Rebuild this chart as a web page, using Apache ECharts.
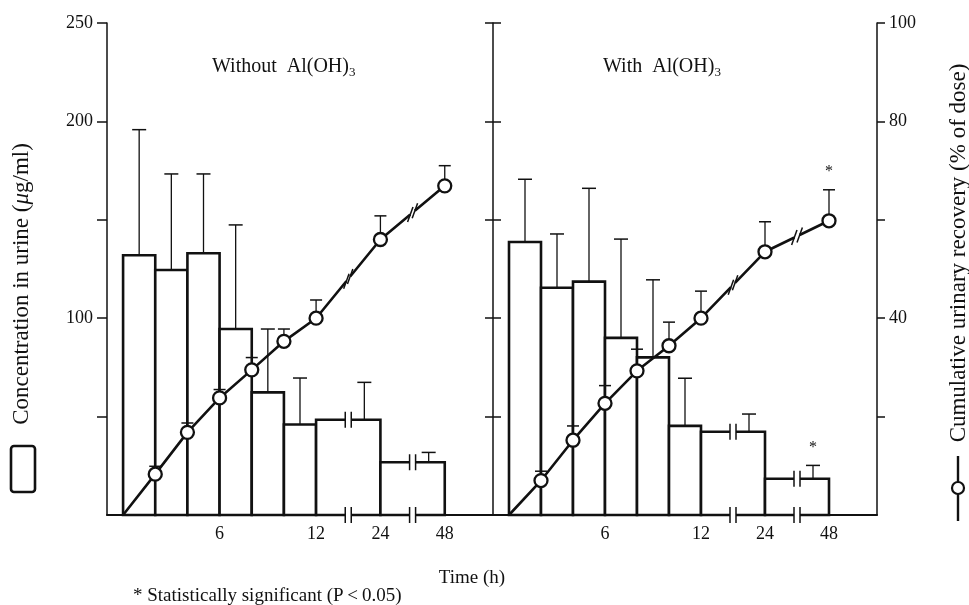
<!DOCTYPE html>
<html>
<head>
<meta charset="utf-8">
<style>
  html, body { margin: 0; padding: 0; background: #fff; }
  #chart { width: 969px; height: 605px; }
</style>
<script src="https://cdn.jsdelivr.net/npm/echarts@6/dist/echarts.min.js"></script>
</head>
<body>
<div id="chart"></div>
<script>
// one slot = 2 h, the 12-24 and 24-48 stretches are drawn broken
const slotLabels = ['0', '2', '4', '6', '8', '10', '12', '', '24', '', '48', ''];
const shownLabels = ['6', '12', '24', '48'];
const hours = [0, 2, 4, 6, 8, 10, 12, 24, 48];

// concentration in urine (ug/ml) per collection period: mean and mean + SD
const concWithout = [132, 124.5, 133, 94.5, 62.3, 46, 48.4, 26.8];
const concWithoutTop = [195.8, 173.3, 173.3, 147.4, 94.5, 69.6, 67.4, 31.8];
const concWith = [138.7, 115.5, 118.6, 90, 80.1, 45.3, 42.3, 18.4];
const concWithTop = [170.6, 142.8, 166, 140.2, 119.5, 69.5, 51.3, 25.2];
const concWithSig = [false, false, false, false, false, false, false, true];
const concWithoutSig = [false, false, false, false, false, false, false, false];

// cumulative urinary recovery (% of dose): mean and mean + SD
const recWithout = [0, 8.3, 16.8, 23.8, 29.5, 35.3, 40.0, 56.0, 66.9];
const recWithoutTop = [null, 9.9, 18.7, 25.5, 32.0, 37.8, 43.7, 60.8, 71.0];
const recWith = [0, 7.0, 15.2, 22.7, 29.3, 34.4, 40.0, 53.5, 59.8];
const recWithTop = [null, 8.9, 18.1, 26.3, 33.7, 39.2, 45.5, 59.6, 66.1];
const recWithSig = [false, false, false, false, false, false, false, false, true];
const recWithoutSig = [false, false, false, false, false, false, false, false, false];

const concTicks = [50, 100, 150, 200, 250];
const concLabels = [100, 200, 250];
const recTicks = [20, 40, 60, 80, 100];
const recLabels = [40, 80, 100];

const FONT = '"Liberation Serif", "DejaVu Serif", serif';
const ink = '#111';
const SP = '\u2002'; // wide word gap as in the original panel titles

function slot(h) {
    return slotLabels.indexOf(String(h));
}

function barItems(conc, top, sig) {
    return conc.map((v, i) => [slot(hours[i]), slot(hours[i + 1]), v, top[i], sig[i] ? 1 : 0]);
}

function lineItems(rec) {
    return rec.map((v, i) => i === 0 ? { value: [slot(hours[i]), v], symbol: 'none' } : [slot(hours[i]), v]);
}

function errItems(rec, top, sig) {
    return rec.map((v, i) => [
        slot(hours[i]), v, top[i] == null ? v : top[i], sig[i] ? 1 : 0,
        i > 0 ? slot(hours[i - 1]) : -1, i > 0 ? rec[i - 1] : 0
    ]);
}

function star(x, y) {
    return {
        type: 'text',
        style: { text: '*', x: x, y: y, font: '16px ' + FONT, fill: ink,
                 align: 'center', textAlign: 'center', verticalAlign: 'middle', textVerticalAlign: 'middle' }
    };
}

// axis break: two short strokes with a white gap between
function breakMark(x, y, out) {
    out.push({ type: 'rect', shape: { x: x - 3, y: y - 3, width: 6, height: 6 }, style: { fill: '#fff' } });
    out.push({ type: 'line', shape: { x1: x - 3, y1: y - 8, x2: x - 3, y2: y + 8 }, style: { stroke: ink, lineWidth: 1.5 } });
    out.push({ type: 'line', shape: { x1: x + 3, y1: y - 8, x2: x + 3, y2: y + 8 }, style: { stroke: ink, lineWidth: 1.5 } });
}

function renderBar(params, api) {
    const s0 = api.value(0), s1 = api.value(1), v = api.value(2), t = api.value(3);
    const pTop = api.coord([s0, v]);
    const pEnd = api.coord([s1, 0]);
    const x0 = pTop[0], x1 = pEnd[0], y0 = pEnd[1], yv = pTop[1];
    // SD bar sits over the last slot of the period
    const xe = (api.coord([s1 - 1, 0])[0] + x1) / 2;
    const ye = api.coord([s1, t])[1];
    const children = [
        { type: 'rect', shape: { x: x0, y: yv, width: x1 - x0, height: y0 - yv },
          style: { fill: '#fff', stroke: ink, lineWidth: 2.6 } },
        { type: 'line', shape: { x1: xe, y1: yv, x2: xe, y2: ye }, style: { stroke: ink, lineWidth: 1.3 } },
        { type: 'line', shape: { x1: xe - 7, y1: ye, x2: xe + 7, y2: ye }, style: { stroke: ink, lineWidth: 1.5 } }
    ];
    for (let s = s0 + 1; s < s1; s++) {
        if (slotLabels[s] !== '') continue;
        const xb = api.coord([s, 0])[0];
        breakMark(xb, yv, children);
        breakMark(xb, y0, children);
    }
    if (api.value(4)) children.push(star(xe, ye - 18));
    return { type: 'group', children: children };
}

function renderRecErr(params, api) {
    const s = api.value(0), v = api.value(1), t = api.value(2);
    const p = api.coord([s, v]), pt = api.coord([s, t]);
    const children = [];
    const yStart = p[1] - 6.5;
    if (pt[1] < yStart) {
        children.push({ type: 'line', shape: { x1: p[0], y1: yStart, x2: p[0], y2: pt[1] }, style: { stroke: ink, lineWidth: 1.3 } });
        children.push({ type: 'line', shape: { x1: p[0] - 6, y1: pt[1], x2: p[0] + 6, y2: pt[1] }, style: { stroke: ink, lineWidth: 1.5 } });
    }
    if (api.value(3)) children.push(star(p[0], pt[1] - 18));
    const sp = api.value(4);
    if (sp >= 0 && s - sp > 1) {
        const q = api.coord([sp, api.value(5)]);
        const mx = (p[0] + q[0]) / 2, my = (p[1] + q[1]) / 2;
        let dx = p[0] - q[0], dy = p[1] - q[1];
        const len = Math.hypot(dx, dy);
        dx /= len; dy /= len;
        children.push({ type: 'line', shape: { x1: mx - 3 * dx, y1: my - 3 * dy, x2: mx + 3 * dx, y2: my + 3 * dy },
                        style: { stroke: '#fff', lineWidth: 6 } });
        [-3, 3].forEach(k => {
            const cx = mx + k * dx, cy = my + k * dy;
            children.push({ type: 'line', shape: { x1: cx - 2.7, y1: cy + 7.5, x2: cx + 2.7, y2: cy - 7.5 },
                            style: { stroke: ink, lineWidth: 1.5 } });
        });
    }
    return { type: 'group', children: children };
}

const labelStyle = { fontFamily: FONT, fontSize: 18, color: ink };

function xAxisFor(gridIndex) {
    return {
        type: 'category', gridIndex: gridIndex, data: slotLabels, boundaryGap: true,
        axisLine: { lineStyle: { color: ink, width: 2 } },
        axisTick: { show: false },
        axisLabel: Object.assign({ interval: 0, margin: 10,
            formatter: v => shownLabels.indexOf(v) >= 0 ? v : '' }, labelStyle),
        splitLine: { show: false }
    };
}

function concAxis(gridIndex, opts) {
    return Object.assign({
        type: 'value', gridIndex: gridIndex, min: 0, max: 250, position: 'left',
        axisLine: { show: true, lineStyle: { color: ink, width: 1.5 } },
        axisTick: { show: true, length: 10, customValues: concTicks, lineStyle: { color: ink, width: 1.5 } },
        axisLabel: Object.assign({ show: false, margin: 14, customValues: concLabels }, labelStyle),
        splitLine: { show: false }
    }, opts);
}

const chart = echarts.init(document.getElementById('chart'));

const subRich = {
    sub: { font: '13px ' + FONT, lineHeight: 13, verticalAlign: 'bottom' }
};

function textEl(text, x, y, extra) {
    return {
        type: 'text', x: x, y: y, silent: true,
        style: Object.assign({ text: text, font: '19px ' + FONT, fill: ink }, extra || {})
    };
}

const centred = { align: 'center', textAlign: 'center', verticalAlign: 'middle', textVerticalAlign: 'middle' };

chart.setOption({
    animation: false,
    backgroundColor: '#fff',
    grid: [
        { left: 107, top: 23, width: 386, height: 492 },
        { left: 493, top: 23, width: 384, height: 492 }
    ],
    xAxis: [xAxisFor(0), xAxisFor(1)],
    yAxis: [
        concAxis(0, { axisLabel: Object.assign({ show: true, margin: 14, customValues: concLabels }, labelStyle) }),
        { type: 'value', gridIndex: 0, min: 0, max: 100, show: false },
        concAxis(1, { axisTick: { show: true, length: 8, customValues: concTicks, lineStyle: { color: ink, width: 1.5 } } }),
        concAxis(1, { axisLine: { show: false },
                      axisTick: { show: true, inside: true, length: 8, customValues: concTicks, lineStyle: { color: ink, width: 1.5 } } }),
        {
            type: 'value', gridIndex: 1, min: 0, max: 100, position: 'right',
            axisLine: { show: true, lineStyle: { color: ink, width: 1.5 } },
            axisTick: { show: true, length: 8, customValues: recTicks, lineStyle: { color: ink, width: 1.5 } },
            axisLabel: Object.assign({ margin: 12, customValues: recLabels }, labelStyle),
            splitLine: { show: false }
        }
    ],
    series: [
        { type: 'custom', name: 'conc without', xAxisIndex: 0, yAxisIndex: 0, z: 2, silent: true,
          renderItem: renderBar, data: barItems(concWithout, concWithoutTop, concWithoutSig) },
        { type: 'line', name: 'recovery without', xAxisIndex: 0, yAxisIndex: 1, z: 4, silent: true,
          data: lineItems(recWithout), symbol: 'circle', symbolSize: 13,
          lineStyle: { color: ink, width: 2.6 },
          itemStyle: { color: '#fff', borderColor: ink, borderWidth: 2.3 } },
        { type: 'custom', name: 'recovery sd without', xAxisIndex: 0, yAxisIndex: 1, z: 5, silent: true,
          renderItem: renderRecErr, data: errItems(recWithout, recWithoutTop, recWithoutSig) },

        { type: 'custom', name: 'conc with', xAxisIndex: 1, yAxisIndex: 2, z: 2, silent: true,
          renderItem: renderBar, data: barItems(concWith, concWithTop, concWithSig) },
        { type: 'line', name: 'recovery with', xAxisIndex: 1, yAxisIndex: 4, z: 4, silent: true,
          data: lineItems(recWith), symbol: 'circle', symbolSize: 13,
          lineStyle: { color: ink, width: 2.6 },
          itemStyle: { color: '#fff', borderColor: ink, borderWidth: 2.3 } },
        { type: 'custom', name: 'recovery sd with', xAxisIndex: 1, yAxisIndex: 4, z: 5, silent: true,
          renderItem: renderRecErr, data: errItems(recWith, recWithTop, recWithSig) }
    ],
    graphic: [
        textEl('Without' + SP + 'Al(OH){sub|3}', 212, 55, { font: '20px ' + FONT, rich: subRich, lineHeight: 24 }),
        textEl('With' + SP + 'Al(OH){sub|3}', 603, 55, { font: '20px ' + FONT, rich: subRich, lineHeight: 24 }),
        textEl('Time (h)', 472, 578, centred),
        textEl('* Statistically significant (P\u2009<\u20090.05)', 133, 596, { verticalAlign: 'middle', textVerticalAlign: 'middle' }),
        Object.assign(textEl('Concentration in urine ({it|\u03bc}g/ml)', 22, 284,
            Object.assign({ font: '23px ' + FONT, rich: { it: { font: 'italic 23px ' + FONT } } }, centred)),
            { rotation: Math.PI / 2 }),
        Object.assign(textEl('Cumulative urinary recovery (% of dose)', 959, 253,
            Object.assign({ font: '23px ' + FONT }, centred)),
            { rotation: Math.PI / 2 }),
        // legend keys
        { type: 'rect', silent: true, shape: { x: 11, y: 446, width: 24, height: 46, r: 3 },
          style: { fill: '#fff', stroke: ink, lineWidth: 2.6 } },
        { type: 'line', silent: true, shape: { x1: 958, y1: 456, x2: 958, y2: 521 }, style: { stroke: ink, lineWidth: 2.4 } },
        { type: 'circle', silent: true, shape: { cx: 958, cy: 488, r: 6 }, style: { fill: '#fff', stroke: ink, lineWidth: 2.2 } }
    ]
});
</script>
</body>
</html>
